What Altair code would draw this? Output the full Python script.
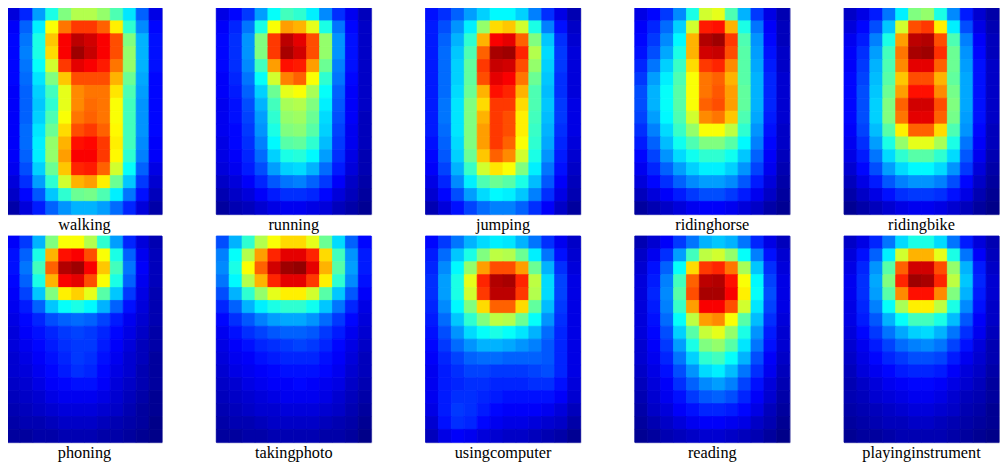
import altair as alt
import pandas as pd

labels = ["walking", "running", "jumping", "ridinghorse", "ridingbike",
          "phoning", "takingphoto", "usingcomputer", "reading", "playinginstrument"]

# heat values on a 0-100 jet scale, 16 rows (top to bottom) x 12 columns (left to right)
walking = [
    [9, 16, 28, 40, 50, 55, 55, 52, 45, 35, 22, 10],
    [12, 22, 36, 62, 76, 82, 82, 78, 64, 42, 26, 13],
    [13, 24, 40, 68, 88, 94, 92, 88, 80, 50, 30, 14],
    [13, 25, 40, 66, 88, 97, 93, 88, 80, 52, 30, 14],
    [13, 24, 38, 58, 82, 90, 88, 85, 76, 52, 30, 14],
    [13, 23, 35, 50, 68, 80, 80, 80, 70, 48, 29, 13],
    [12, 22, 33, 44, 60, 74, 76, 76, 65, 45, 28, 13],
    [12, 22, 32, 42, 60, 74, 77, 76, 62, 44, 27, 13],
    [12, 22, 33, 45, 62, 76, 78, 76, 62, 44, 27, 13],
    [12, 23, 35, 48, 66, 80, 82, 78, 63, 44, 27, 13],
    [12, 23, 36, 52, 70, 86, 87, 82, 64, 44, 26, 12],
    [12, 22, 36, 52, 72, 88, 88, 82, 63, 42, 25, 12],
    [11, 20, 33, 48, 68, 84, 85, 78, 58, 38, 22, 10],
    [9, 17, 28, 42, 58, 70, 72, 64, 48, 32, 18, 8],
    [7, 13, 21, 32, 42, 48, 49, 45, 36, 24, 14, 6],
    [4, 9, 15, 22, 27, 30, 30, 28, 23, 16, 9, 4],
]
running = [
    [10, 13, 18, 28, 38, 44, 42, 36, 26, 17, 11, 6],
    [12, 16, 24, 40, 62, 72, 70, 60, 40, 24, 13, 7],
    [13, 17, 27, 50, 82, 94, 90, 80, 52, 27, 14, 7],
    [13, 17, 27, 50, 82, 96, 92, 80, 52, 27, 14, 7],
    [13, 17, 26, 44, 72, 86, 85, 72, 48, 25, 14, 7],
    [12, 16, 24, 38, 58, 75, 78, 62, 42, 24, 13, 7],
    [12, 15, 22, 33, 48, 60, 62, 54, 38, 22, 12, 7],
    [11, 14, 20, 30, 44, 54, 55, 50, 36, 21, 12, 7],
    [11, 14, 19, 28, 42, 52, 53, 48, 34, 20, 12, 6],
    [11, 13, 18, 27, 40, 50, 51, 46, 33, 19, 11, 6],
    [10, 13, 17, 25, 37, 46, 47, 42, 31, 18, 11, 6],
    [10, 12, 16, 23, 33, 40, 41, 37, 28, 17, 10, 5],
    [9, 11, 15, 20, 28, 33, 34, 30, 23, 15, 9, 5],
    [7, 9, 12, 16, 21, 24, 25, 22, 18, 12, 7, 4],
    [5, 7, 9, 12, 15, 17, 17, 16, 13, 9, 6, 3],
    [3, 5, 6, 8, 10, 11, 11, 10, 9, 6, 4, 2],
]
jumping = [
    [14, 17, 22, 28, 33, 37, 37, 33, 25, 17, 10, 5],
    [15, 20, 27, 36, 52, 66, 68, 58, 40, 25, 14, 7],
    [15, 22, 30, 42, 70, 88, 90, 78, 50, 32, 17, 8],
    [15, 23, 32, 45, 78, 96, 97, 84, 55, 34, 18, 9],
    [15, 23, 33, 47, 82, 93, 92, 80, 52, 33, 18, 9],
    [15, 23, 33, 47, 80, 90, 88, 76, 48, 32, 17, 9],
    [15, 23, 34, 48, 70, 86, 84, 70, 45, 31, 17, 9],
    [15, 24, 35, 50, 66, 82, 82, 66, 45, 32, 18, 10],
    [15, 24, 35, 50, 70, 82, 80, 64, 44, 31, 18, 10],
    [15, 23, 35, 50, 72, 82, 80, 64, 43, 30, 17, 10],
    [14, 22, 34, 50, 72, 82, 78, 62, 42, 29, 16, 9],
    [13, 21, 33, 48, 68, 78, 74, 58, 40, 27, 15, 8],
    [12, 19, 30, 43, 58, 65, 62, 50, 36, 24, 14, 7],
    [10, 16, 26, 36, 45, 48, 46, 40, 31, 21, 12, 6],
    [8, 13, 20, 28, 34, 37, 36, 32, 25, 17, 10, 5],
    [5, 9, 14, 19, 23, 25, 25, 22, 17, 12, 7, 3],
]
ridinghorse = [
    [10, 13, 18, 26, 40, 58, 60, 45, 30, 18, 10, 5],
    [12, 16, 23, 33, 58, 85, 86, 70, 40, 24, 12, 6],
    [13, 18, 26, 37, 70, 95, 97, 82, 45, 27, 13, 6],
    [14, 20, 29, 40, 70, 92, 93, 80, 46, 28, 14, 7],
    [16, 24, 33, 43, 66, 82, 84, 74, 46, 29, 15, 7],
    [18, 28, 36, 45, 62, 76, 78, 70, 46, 30, 16, 8],
    [20, 30, 38, 46, 62, 76, 79, 72, 47, 30, 16, 8],
    [20, 30, 38, 46, 62, 78, 80, 72, 47, 30, 16, 8],
    [19, 28, 37, 45, 58, 74, 76, 68, 45, 29, 15, 8],
    [17, 25, 34, 43, 52, 62, 62, 56, 42, 27, 14, 7],
    [15, 22, 31, 39, 45, 50, 50, 46, 37, 25, 13, 7],
    [13, 19, 27, 34, 39, 42, 42, 39, 32, 22, 12, 6],
    [11, 16, 22, 28, 33, 36, 36, 33, 27, 19, 11, 5],
    [9, 13, 17, 22, 26, 28, 28, 26, 21, 15, 9, 4],
    [6, 9, 12, 15, 18, 20, 20, 18, 15, 11, 7, 3],
    [3, 5, 7, 9, 11, 12, 12, 11, 9, 7, 4, 2],
]
ridingbike = [
    [7, 10, 15, 24, 36, 50, 52, 40, 26, 15, 8, 4],
    [9, 13, 20, 32, 58, 80, 82, 64, 36, 20, 10, 5],
    [11, 15, 25, 40, 72, 94, 95, 80, 45, 25, 12, 6],
    [12, 17, 28, 44, 76, 96, 97, 83, 48, 27, 13, 6],
    [12, 18, 30, 45, 74, 90, 90, 78, 48, 28, 14, 7],
    [13, 19, 31, 46, 68, 80, 80, 70, 47, 29, 14, 7],
    [13, 20, 32, 48, 72, 86, 86, 74, 49, 29, 14, 7],
    [13, 20, 33, 50, 78, 92, 92, 80, 50, 29, 14, 7],
    [13, 20, 33, 50, 76, 90, 90, 78, 49, 28, 14, 7],
    [12, 19, 31, 46, 64, 78, 78, 66, 45, 27, 13, 6],
    [11, 17, 28, 40, 52, 60, 60, 54, 40, 24, 12, 6],
    [10, 15, 24, 34, 42, 46, 46, 42, 34, 21, 11, 5],
    [8, 13, 20, 28, 34, 37, 37, 34, 27, 18, 9, 4],
    [6, 10, 15, 21, 25, 27, 27, 25, 20, 13, 7, 3],
    [4, 7, 10, 14, 17, 18, 18, 17, 14, 10, 5, 2],
    [2, 4, 6, 8, 10, 11, 11, 10, 8, 6, 3, 1],
]
phoning = [
    [12, 18, 30, 50, 62, 62, 55, 42, 28, 16, 9, 5],
    [14, 22, 40, 70, 86, 88, 80, 62, 40, 22, 11, 6],
    [14, 24, 44, 78, 95, 97, 88, 68, 44, 24, 12, 6],
    [13, 22, 40, 70, 88, 90, 80, 62, 40, 22, 11, 6],
    [12, 19, 32, 50, 64, 67, 60, 46, 32, 18, 10, 5],
    [11, 15, 22, 32, 38, 40, 37, 30, 22, 14, 9, 5],
    [10, 13, 16, 20, 22, 23, 22, 19, 15, 11, 8, 5],
    [9, 12, 14, 16, 18, 19, 18, 16, 13, 10, 7, 4],
    [9, 11, 13, 15, 17, 18, 18, 15, 12, 9, 6, 4],
    [8, 10, 12, 14, 16, 18, 17, 14, 11, 8, 6, 3],
    [8, 9, 11, 13, 15, 17, 16, 13, 10, 8, 5, 3],
    [7, 8, 10, 12, 13, 14, 14, 12, 9, 7, 5, 3],
    [6, 7, 8, 10, 11, 11, 11, 10, 8, 6, 4, 2],
    [5, 6, 7, 8, 9, 9, 9, 8, 7, 5, 3, 2],
    [4, 5, 5, 6, 7, 7, 7, 6, 5, 4, 3, 1],
    [3, 3, 4, 4, 5, 5, 5, 4, 4, 3, 2, 1],
]
takingphoto = [
    [20, 30, 42, 55, 62, 66, 66, 60, 48, 34, 22, 13],
    [25, 38, 55, 72, 84, 90, 90, 84, 66, 44, 27, 15],
    [26, 40, 62, 78, 92, 97, 98, 90, 70, 46, 28, 15],
    [24, 37, 55, 70, 84, 90, 90, 82, 64, 42, 26, 14],
    [20, 30, 42, 52, 60, 64, 64, 58, 46, 32, 21, 12],
    [16, 22, 30, 36, 40, 42, 42, 39, 32, 24, 16, 10],
    [13, 17, 21, 25, 28, 29, 29, 27, 23, 18, 13, 9],
    [11, 14, 17, 19, 21, 22, 22, 21, 18, 15, 11, 8],
    [10, 12, 14, 16, 17, 18, 19, 18, 16, 13, 10, 7],
    [9, 11, 12, 14, 15, 16, 16, 16, 14, 12, 9, 6],
    [8, 10, 11, 12, 13, 14, 14, 14, 13, 11, 8, 6],
    [7, 8, 10, 11, 12, 12, 13, 12, 11, 10, 7, 5],
    [6, 7, 8, 9, 10, 11, 11, 11, 10, 8, 6, 4],
    [5, 6, 7, 8, 8, 9, 9, 9, 8, 7, 5, 3],
    [4, 5, 5, 6, 7, 7, 7, 7, 6, 5, 4, 2],
    [3, 3, 4, 4, 5, 5, 5, 5, 4, 4, 3, 1],
]
usingcomputer = [
    [13, 18, 24, 30, 34, 36, 35, 30, 24, 17, 11, 7],
    [15, 23, 32, 40, 50, 56, 55, 48, 36, 24, 14, 8],
    [16, 26, 37, 52, 72, 80, 80, 72, 48, 30, 17, 9],
    [17, 28, 40, 60, 84, 95, 96, 84, 56, 34, 19, 10],
    [17, 28, 40, 58, 82, 94, 94, 82, 55, 34, 19, 10],
    [16, 26, 37, 50, 66, 78, 78, 66, 47, 31, 18, 10],
    [15, 23, 32, 42, 50, 56, 55, 48, 38, 27, 17, 10],
    [14, 20, 27, 34, 38, 40, 38, 35, 30, 23, 16, 10],
    [13, 18, 23, 27, 30, 30, 29, 27, 25, 21, 16, 10],
    [12, 16, 19, 22, 23, 23, 22, 22, 22, 21, 16, 10],
    [11, 15, 17, 19, 19, 18, 18, 18, 19, 20, 16, 10],
    [11, 15, 16, 17, 17, 16, 16, 16, 17, 17, 14, 9],
    [11, 15, 17, 17, 16, 15, 14, 14, 14, 14, 12, 8],
    [10, 15, 18, 17, 15, 13, 12, 12, 12, 11, 9, 6],
    [8, 14, 17, 16, 13, 11, 10, 10, 9, 8, 7, 4],
    [6, 10, 12, 11, 9, 8, 7, 7, 6, 5, 4, 2],
]
reading = [
    [5, 8, 12, 18, 24, 30, 32, 30, 24, 16, 10, 6],
    [7, 11, 17, 28, 44, 56, 58, 52, 38, 25, 14, 8],
    [8, 14, 22, 38, 66, 82, 84, 76, 54, 32, 17, 9],
    [9, 15, 25, 44, 78, 94, 95, 86, 62, 37, 19, 10],
    [9, 16, 26, 46, 80, 96, 96, 88, 64, 38, 20, 10],
    [9, 15, 25, 43, 72, 88, 88, 80, 58, 35, 19, 10],
    [9, 14, 23, 38, 56, 72, 74, 62, 46, 31, 17, 9],
    [9, 13, 20, 33, 46, 57, 60, 52, 40, 27, 15, 8],
    [8, 12, 18, 28, 40, 50, 52, 46, 35, 24, 14, 8],
    [8, 11, 16, 24, 33, 42, 44, 38, 30, 20, 12, 7],
    [7, 10, 14, 20, 27, 34, 36, 31, 24, 17, 11, 6],
    [6, 9, 12, 17, 22, 26, 28, 25, 19, 14, 9, 5],
    [5, 8, 11, 14, 18, 21, 22, 20, 16, 12, 8, 4],
    [4, 7, 9, 12, 14, 16, 16, 15, 13, 10, 6, 3],
    [3, 5, 7, 9, 11, 12, 12, 11, 10, 7, 5, 2],
    [2, 3, 5, 6, 7, 8, 8, 7, 6, 5, 3, 1],
]
playinginstrument = [
    [7, 10, 16, 24, 34, 40, 40, 34, 24, 15, 9, 5],
    [9, 14, 22, 36, 58, 70, 70, 60, 40, 24, 12, 6],
    [10, 16, 27, 46, 78, 92, 92, 80, 52, 30, 15, 7],
    [11, 17, 29, 50, 84, 97, 96, 84, 56, 32, 16, 8],
    [11, 17, 28, 46, 74, 86, 86, 74, 50, 30, 15, 8],
    [10, 16, 25, 38, 54, 64, 64, 56, 40, 26, 14, 7],
    [10, 15, 21, 30, 38, 44, 44, 40, 31, 21, 12, 7],
    [9, 13, 18, 24, 29, 33, 34, 30, 24, 17, 11, 6],
    [8, 11, 15, 19, 23, 25, 26, 24, 19, 14, 9, 5],
    [7, 10, 13, 16, 18, 20, 20, 19, 15, 11, 8, 5],
    [6, 9, 11, 13, 15, 16, 16, 15, 12, 9, 7, 4],
    [5, 7, 9, 11, 12, 13, 13, 12, 10, 8, 6, 3],
    [5, 6, 8, 9, 10, 11, 11, 10, 8, 6, 5, 3],
    [4, 5, 6, 7, 8, 9, 9, 8, 7, 5, 4, 2],
    [3, 4, 5, 6, 6, 7, 7, 6, 5, 4, 3, 2],
    [2, 3, 3, 4, 5, 5, 5, 5, 4, 3, 2, 1],
]

grids = [walking, running, jumping, ridinghorse, ridingbike,
         phoning, takingphoto, usingcomputer, reading, playinginstrument]

jet_domain = [0, 12.5, 37.5, 62.5, 87.5, 100]
jet_colors = ["#00007f", "#0000ff", "#00ffff", "#ffff00", "#ff0000", "#7f0000"]
serif = "Liberation Serif"


def jet_scale():
    return alt.Scale(domain=jet_domain, range=jet_colors, interpolate="rgb")


def panel(label, grid):
    recs = [{"col": c, "row": r, "v": v}
            for r, line in enumerate(grid) for c, v in enumerate(line)]
    df = pd.DataFrame(recs)
    return alt.Chart(df, title=alt.Title(label)).mark_rect(strokeWidth=0.8).encode(
        x=alt.X("col:O", axis=None, scale=alt.Scale(paddingInner=0, paddingOuter=0)),
        y=alt.Y("row:O", axis=None, scale=alt.Scale(paddingInner=0, paddingOuter=0)),
        color=alt.Color("v:Q", legend=None, scale=jet_scale()),
        stroke=alt.Stroke("v:Q", legend=None, scale=jet_scale()),
    ).properties(width=157, height=209)


charts = [panel(l, g) for l, g in zip(labels, grids)]

chart = alt.concat(*charts, columns=5, spacing={"row": 0, "column": 53}).properties(
    padding={"left": -2, "top": -4, "right": 0, "bottom": 0}
).configure(font=serif).configure_title(
    orient="bottom", anchor="middle", font=serif, fontSize=16.5,
    fontWeight="normal", color="#000000", offset=3
).configure_view(stroke="#a8a8d0", strokeWidth=1)

chart.save("out.html", embed_options={"renderer": "svg", "actions": False})
